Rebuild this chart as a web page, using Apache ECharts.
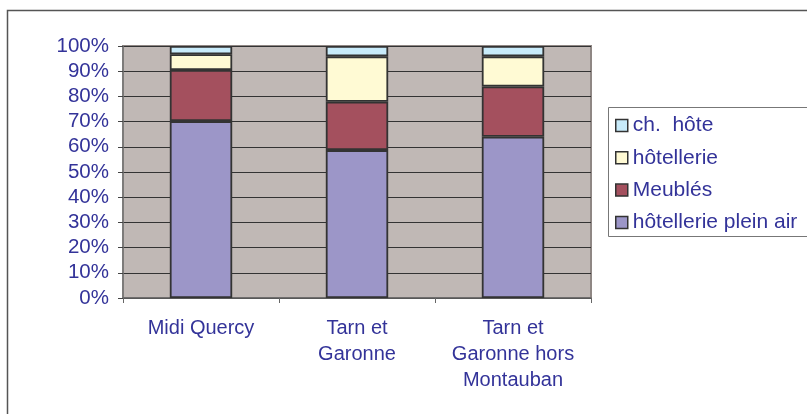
<!DOCTYPE html>
<html><head><meta charset="utf-8">
<script src="https://cdn.jsdelivr.net/npm/echarts@6/dist/echarts.min.js"></script>
<style>html,body{margin:0;padding:0;background:#fff}#c{width:807px;height:414px}</style>
</head><body><div id="c"></div>
<script>
var categories = ['Midi Quercy', 'Tarn et\nGaronne', 'Tarn et\nGaronne hors\nMontauban'];
var pleinAir = [70.2, 58.7, 64.0];
var meubles = [20.3, 19.2, 19.9];
var hotellerie = [6.2, 18.0, 12.0];
var chHote = [3.3, 4.1, 4.1];
var yTicks = [0, 10, 20, 30, 40, 50, 60, 70, 80, 90, 100];
var legendOrder = ['ch.  hôte', 'hôtellerie', 'Meublés', 'hôtellerie plein air'];

var txt = '#333399';
var font = 'Liberation Sans, Arial, sans-serif';
function bar(name, data, color) {
  return {name: name, type: 'bar', stack: 't', data: data, barWidth: '40%',
    itemStyle: {color: color, borderColor: '#333', borderWidth: 1.8}};
}
var chart = echarts.init(document.getElementById('c'));
chart.setOption({
  animation: false,
  graphic: [
    {type: 'rect', shape: {x: 7.5, y: 10.5, width: 900, height: 500}, style: {fill: 'none', stroke: '#555', lineWidth: 1.5}, z: -10},
    {type: 'rect', shape: {x: 608.5, y: 107.5, width: 300, height: 129}, style: {fill: '#fff', stroke: '#777', lineWidth: 1}, z: -5}
  ],
  grid: {left: 123, top: 46, width: 468, height: 252, show: true, backgroundColor: '#C0B8B5', borderColor: '#8F8784', borderWidth: 2},
  legend: {
    orient: 'vertical', left: 610, top: 110, itemWidth: 12, itemHeight: 12, itemGap: 11.3,
    icon: 'rect',
    data: legendOrder,
    textStyle: {color: txt, fontSize: 21, fontFamily: font, lineHeight: 20},
    itemStyle: {borderColor: '#333', borderWidth: 1.5}
  },
  xAxis: {
    type: 'category', data: categories,
    axisLine: {lineStyle: {color: '#666', width: 1.5}},
    axisTick: {show: true, length: 5, lineStyle: {color: '#666'}},
    axisLabel: {color: txt, fontSize: 20, fontFamily: font, lineHeight: 26, margin: 17, interval: 0}
  },
  yAxis: {
    type: 'value', min: 0, max: 100, interval: 10,
    axisLine: {show: true, lineStyle: {color: '#777', width: 1.5}},
    axisTick: {show: true, length: 5, lineStyle: {color: '#444'}},
    axisLabel: {color: txt, fontSize: 20.5, fontFamily: font, margin: 14,
      formatter: function (v) { return yTicks.indexOf(v) >= 0 ? v + '%' : ''; }},
    splitLine: {show: true, lineStyle: {color: '#333', width: 1}}
  },
  series: [
    bar('hôtellerie plein air', pleinAir, '#9C96C8'),
    bar('Meublés', meubles, '#A4505E'),
    bar('hôtellerie', hotellerie, '#FFFAD4'),
    bar('ch.  hôte', chHote, '#C8EBFA')
  ]
});
</script></body></html>
